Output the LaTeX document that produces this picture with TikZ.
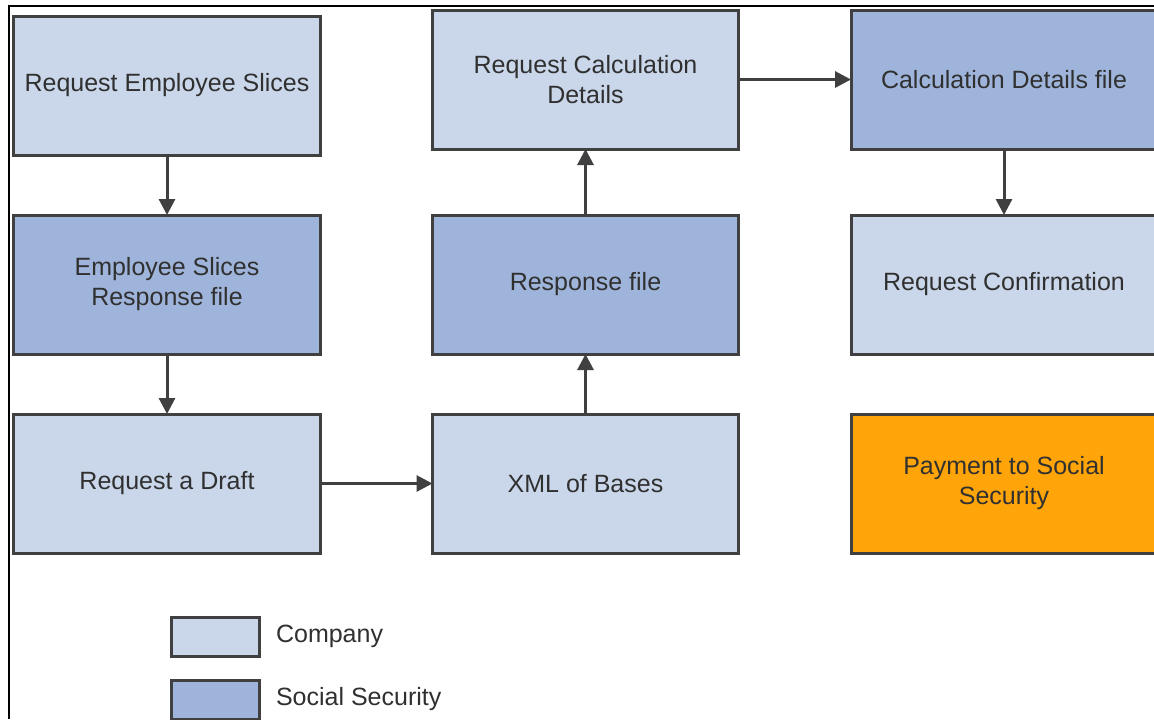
\documentclass[tikz,border=0pt]{standalone}
\usepackage{fontspec}
\setmainfont{Liberation Sans}
\usepackage{tikz}
\usetikzlibrary{arrows.meta,positioning}
\definecolor{company}{HTML}{CAD7EA}
\definecolor{socsec}{HTML}{9FB4DA}
\definecolor{payment}{HTML}{FFA50A}
\definecolor{edgegray}{HTML}{404040}
\definecolor{textgray}{HTML}{303030}

\begin{document}
\begin{tikzpicture}[x=0.5pt,y=-0.5pt]
        \tikzstyle{stage} = [draw=edgegray,line width=1.5pt,text=textgray,align=center,minimum width=153pt,minimum height=69.5pt,outer sep=0pt,font=\fontsize{12.5}{15}\selectfont]
        \tikzstyle{company} = [stage,fill=company]
        \tikzstyle{socsec} = [stage,fill=socsec]
        \tikzstyle{payment} = [stage,fill=payment]
        \tikzstyle{flow} = [draw=edgegray,line width=1.5pt,-{Triangle[length=8pt,width=8pt]}]
        \tikzstyle{legendbox} = [draw=edgegray,line width=1.5pt,minimum width=44pt,minimum height=19.5pt,outer sep=0pt]
        \tikzstyle{legendtext} = [text=textgray,font=\fontsize{12.5}{15}\selectfont]
        %
        \useasboundingbox (0,0) rectangle (1154,719);
        % Frame.
        \draw[line width=0.75pt] (1154,6) -- (9,6) -- (9,719);
        %
        \matrix[row sep=28.5pt, column sep=54.75pt] (flowchart) at (585.5,281.5) {
        % First row.
        \node[company,yshift=-1.5pt] (slices) {Request Employee Slices}; &
        \node[company,yshift=1.5pt] (calcreq) {Request Calculation\\Details}; &
        \node[socsec,yshift=1.5pt] (calcfile) {Calculation Details file}; \\
        % Second row.
        \node[socsec] (slicesresp) {Employee Slices\\Response file}; &
        \node[socsec] (resp) {Response file}; &
        \node[company] (confirm) {Request Confirmation}; \\
        % Third row.
        \node[company] (draft) {Request a Draft}; &
        \node[company] (xml) {XML of Bases}; &
        \node[payment] (pay) {Payment to Social\\Security}; \\
        };
        % Draw arrows.
        \draw[flow] (slices) -- (slicesresp);
        \draw[flow] (slicesresp) -- (draft);
        \draw[flow] (draft) -- (xml);
        \draw[flow] (xml) -- (resp);
        \draw[flow] (resp) -- (calcreq);
        \draw[flow] (calcreq) -- (calcfile);
        \draw[flow] (calcfile) -- (confirm);
        % Legend.
        \node[legendbox,fill=company] (legcompany) at (215,636.5) {};
        \node[legendbox,fill=socsec] (legsocsec) at (215,699.5) {};
        \node[legendtext,right=5pt of legcompany] (txtcompany) {Company};
        \node[legendtext,right=5pt of legsocsec] (txtsocsec) {Social Security};
        %
\end{tikzpicture}
\end{document}
